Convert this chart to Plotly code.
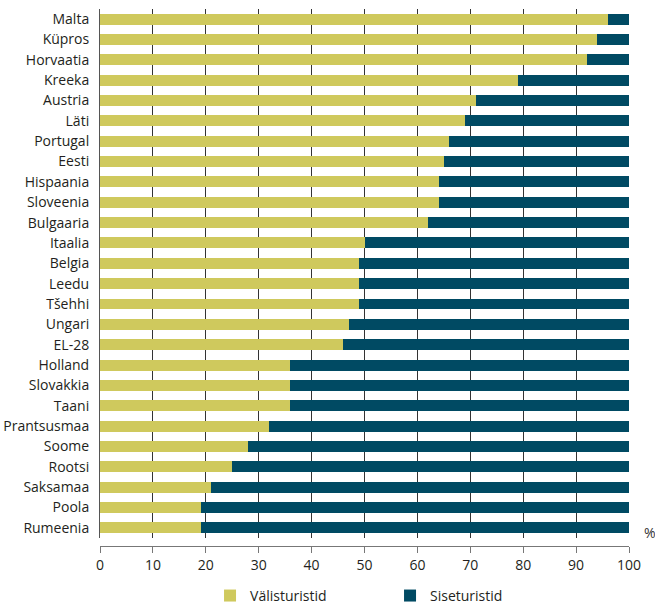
import plotly.graph_objects as go

# Data (share of nights, %)
countries = ["Malta", "Küpros", "Horvaatia", "Kreeka", "Austria", "Läti", "Portugal", "Eesti",
             "Hispaania", "Sloveenia", "Bulgaaria", "Itaalia", "Belgia", "Leedu", "Tšehhi",
             "Ungari", "EL-28", "Holland", "Slovakkia", "Taani", "Prantsusmaa", "Soome",
             "Rootsi", "Saksamaa", "Poola", "Rumeenia"]
foreign = [96, 94, 92, 79, 71, 69, 66, 65, 64, 64, 62, 50, 49, 49, 49, 47, 46, 36, 36, 36,
           32, 28, 25, 21, 19, 19]
domestic = [100 - v for v in foreign]
x_ticks = list(range(0, 101, 10))

YELLOW = "#CFC95D"
TEAL = "#004A63"
TEXT = "#231F20"
FONT = "Open Sans, sans-serif"

fig = go.Figure()
fig.add_trace(go.Bar(y=countries, x=foreign, name="Välisturistid", orientation="h",
                     marker=dict(color=YELLOW, line_width=0)))
fig.add_trace(go.Bar(y=countries, x=domestic, name="Siseturistid", orientation="h",
                     marker=dict(color=TEAL, line_width=0)))

fig.update_layout(
    width=655, height=604,
    barmode="stack", bargap=0.46,
    paper_bgcolor="white", plot_bgcolor="white",
    font=dict(family=FONT, size=14, color=TEXT),
    margin=dict(l=100, r=26, t=9, b=58, autoexpand=False),
    showlegend=True,
    legend=dict(orientation="h", x=0.208, xanchor="left", y=-0.093, yanchor="middle",
                font=dict(size=14, color=TEXT), entrywidth=135, traceorder="normal"),
)
fig.update_xaxes(range=[0, 100], tickvals=x_ticks, showgrid=True, gridcolor="#333333",
                 gridwidth=1, showline=True, linecolor="#777777", linewidth=1,
                 ticks="outside", ticklen=6, tickcolor="#777777", ticklabelstandoff=0,
                 anchor="free", position=0, zeroline=False, automargin=False)
fig.update_yaxes(autorange="reversed", domain=[0.015, 1], showline=True,
                 linecolor="#555555", linewidth=1, ticks="", ticklabelstandoff=7,
                 showgrid=False, automargin=False)
fig.add_annotation(text="%", xref="paper", yref="paper", x=1, y=0.026, xshift=13,
                   showarrow=False, xanchor="left", yanchor="middle",
                   font=dict(size=14, color="#333333"))

# drop the default 8px body margin so the figure sits flush in the window
fig.write_html("out.html", config={"displayModeBar": False},
               post_script="document.body.style.margin='0';document.body.style.overflow='hidden';")
